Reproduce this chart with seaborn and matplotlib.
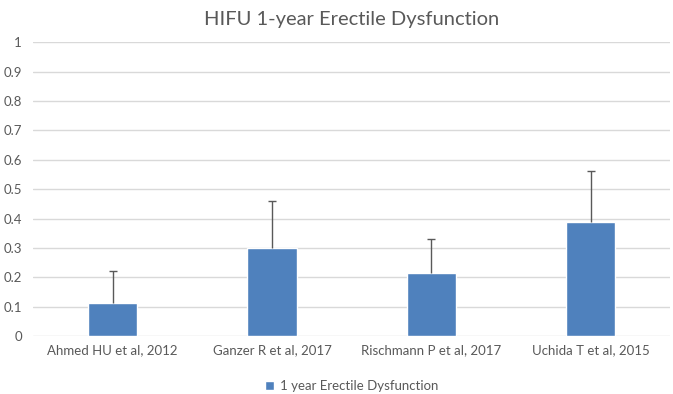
import pandas as pd
import numpy as np
import matplotlib
matplotlib.use("Agg")
import matplotlib.pyplot as plt
import seaborn as sns

studies = ["Ahmed HU et al, 2012", "Ganzer R et al, 2017",
           "Rischmann P et al, 2017", "Uchida T et al, 2015"]
ed_rate = [0.113, 0.30, 0.215, 0.387]
ed_upper = [0.22, 0.46, 0.33, 0.56]
series_name = "1 year Erectile Dysfunction"

df = pd.DataFrame({"Study": studies, "Rate": ed_rate, "Series": series_name})

sns.set_style("white")
plt.rcParams["font.family"] = ["Lato", "DejaVu Sans"]
grey = "#595959"

fig = plt.figure(figsize=(6.73, 3.94), dpi=100)
ax = fig.add_axes([0.049, 0.147, 0.947, 0.746])
sns.barplot(data=df, x="Study", y="Rate", hue="Series", palette=["#4f81bd"],
            width=0.31, saturation=1, ax=ax, zorder=3)

err_hi = np.array(ed_upper) - np.array(ed_rate)
eb = ax.errorbar(np.arange(len(studies)), ed_rate,
                 yerr=[np.zeros(len(studies)), err_hi],
                 fmt="none", ecolor=grey, elinewidth=1, capsize=3, capthick=1, zorder=4)
# only the upper cap is wanted
eb[1][0].set_visible(False)

ax.set_ylim(0, 1)
ax.set_xlim(-0.5, 3.5)
ax.set_yticks(np.arange(0, 1.01, 0.1))
ax.set_yticklabels(["0"] + [f"{v:.1f}" for v in np.arange(0.1, 0.95, 0.1)] + ["1"])
ax.grid(axis="y", color="#d9d9d9", linewidth=1, zorder=0)
ax.set_axisbelow(True)
for s in ax.spines.values():
    s.set_visible(False)
ax.tick_params(axis="both", length=0, colors=grey, labelsize=9.5)
ax.tick_params(axis="x", pad=6)
ax.tick_params(axis="y", pad=8)
ax.set_xlabel("")
ax.set_ylabel("")
ax.set_title("HIFU 1-year Erectile Dysfunction", color=grey, fontsize=14.5, pad=12)

ax.legend(loc="upper center", bbox_to_anchor=(0.5, -0.11), frameon=False,
          fontsize=9.5, labelcolor=grey, handlelength=0.7, handleheight=0.7,
          handletextpad=0.4)

fig.savefig("out.png", dpi=100)
